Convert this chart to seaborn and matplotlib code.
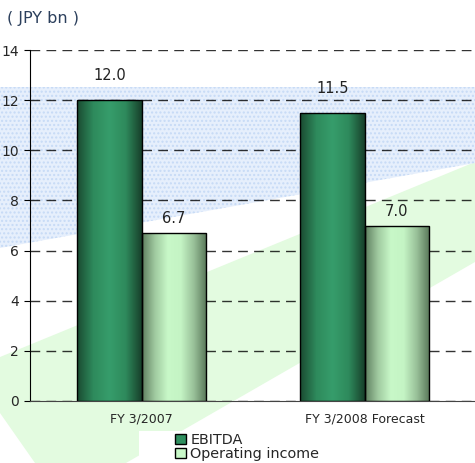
import numpy as np
import pandas as pd
import seaborn as sns
import matplotlib.pyplot as plt
from matplotlib.patches import Polygon, Rectangle, Patch
from matplotlib.colors import LinearSegmentedColormap

categories = ["FY 3/2007", "FY 3/2008 Forecast"]
series = ["EBITDA", "Operating income"]
ebitda = [12.0, 11.5]
op_income = [6.7, 7.0]
yticks = [0, 2, 4, 6, 8, 10, 12, 14]

df = pd.DataFrame({
    "period": categories * 2,
    "series": [series[0]] * 2 + [series[1]] * 2,
    "value": ebitda + op_income,
})

sns.set_style("white")
plt.rcParams["font.family"] = ["DejaVu Sans"]

fig = plt.figure(figsize=(4.75, 4.63), dpi=100)

# background decoration, drawn in pixel coordinates
bg = fig.add_axes([0, 0, 1, 1], zorder=0)
bg.set_xlim(0, 475)
bg.set_ylim(463, 0)
bg.axis("off")
bg.add_patch(Polygon([(0, 357), (475, 162), (475, 262), (126, 463), (35, 463), (0, 413)],
                     closed=True, facecolor="#e3fbe0", edgecolor="none"))
bg.add_patch(Polygon([(0, 87), (475, 87), (475, 163), (0, 248)],
                     closed=True, facecolor="#e6effc", edgecolor="#c6daf6",
                     hatch="....", linewidth=0))
bg.add_patch(Rectangle((139, 431), 336, 32, facecolor="white", edgecolor="none"))

ax = fig.add_axes([30 / 475, 1 - 401 / 463, 446 / 475, 351 / 463], zorder=1)
ax.patch.set_alpha(0)

palette = {"EBITDA": "#2f8f5f", "Operating income": "#bdf3bd"}
sns.barplot(data=df, x="period", y="value", hue="series", palette=palette,
            width=0.574, gap=0, edgecolor="black", linewidth=1, legend=False, ax=ax)

# cylinder-like horizontal gradients
cmaps = {
    "EBITDA": LinearSegmentedColormap.from_list(
        "e", ["#1a4a31", "#2e8a5c", "#369d6b", "#2e8a5c", "#173f2a"]),
    "Operating income": LinearSegmentedColormap.from_list(
        "o", ["#5f7f60", "#a0caa0", "#c8f8c8", "#c4f4c4", "#98c098", "#587658"]),
}
pads = {"EBITDA": 12, "Operating income": 5}
grad = np.linspace(0, 1, 256).reshape(1, -1)
for container, name in zip(ax.containers, series):
    for bar in container:
        x0, y0 = bar.get_x(), bar.get_y()
        w, h = bar.get_width(), bar.get_height()
        im = ax.imshow(grad, cmap=cmaps[name], aspect="auto",
                       extent=(x0, x0 + w, y0, y0 + h), zorder=2)
        im.set_clip_path(bar)
        bar.set_facecolor("none")
        bar.set_zorder(3)
    ax.bar_label(container, fmt="%.1f", padding=pads[name], fontsize=10.5, color="#222222")

ax.set_xlim(-0.5, 1.5)
ax.set_ylim(0, 14)
ax.set_yticks(yticks)
ax.yaxis.grid(True, color="black", linestyle=(0, (7, 4.5)), linewidth=1, alpha=0.8)
ax.set_axisbelow(True)
ax.set_xlabel("")
ax.set_ylabel("")
ax.tick_params(axis="y", labelsize=10, length=4, left=True, color="black", pad=4)
ax.tick_params(axis="x", labelsize=9, length=0, pad=8)
ax.set_xticks([0.5], minor=True)
ax.tick_params(axis="x", which="minor", direction="in", length=4, color="black")
for side in ["top", "right"]:
    ax.spines[side].set_visible(False)
ax.spines["left"].set_color("black")
ax.spines["bottom"].set_color("#444444")

fig.text(7 / 475, 1 - 18 / 463, "( JPY bn )", fontsize=11.5, color="#2b3f5c", va="center")

handles = [Patch(facecolor="#2f8f5f", edgecolor="black", label=series[0]),
           Patch(facecolor="#c8f8c8", edgecolor="black", label=series[1])]
fig.legend(handles=handles, loc="upper left", bbox_to_anchor=(175 / 475, 1 - 433 / 463),
           frameon=False, fontsize=10.4, handlelength=0.75, handleheight=0.75,
           handletextpad=0.3, labelspacing=0.0, borderpad=0, borderaxespad=0)

fig.savefig("out.png", dpi=100)
